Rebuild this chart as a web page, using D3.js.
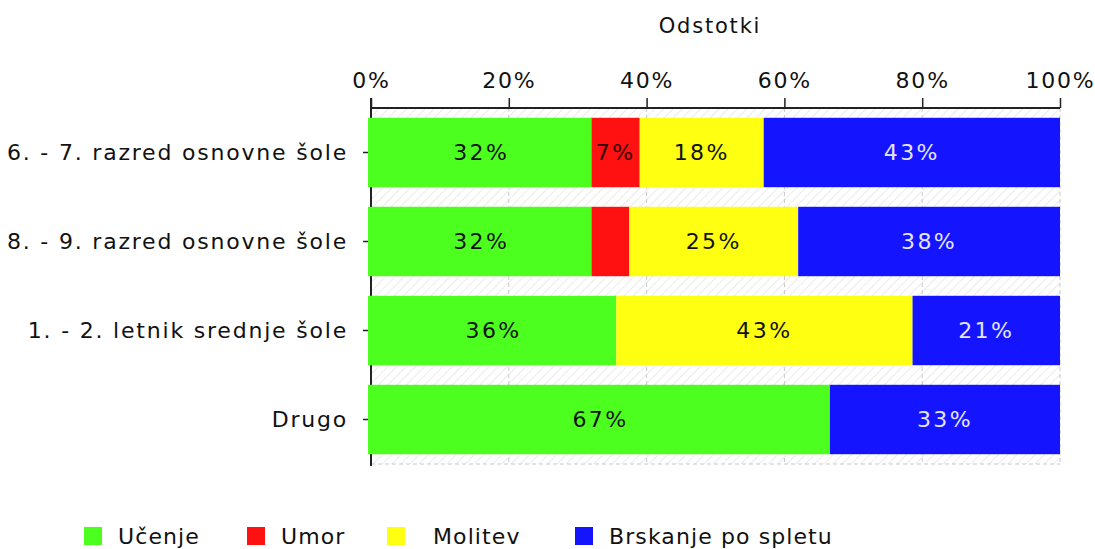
<!DOCTYPE html>
<html lang="sl">
<head>
<meta charset="utf-8">
<script src="https://cdnjs.cloudflare.com/ajax/libs/d3/7.8.5/d3.min.js"></script>
<style>
    body { margin: 0; background: #fff; }
    text { font-family: "DejaVu Sans", Verdana, sans-serif; }
</style>
</head>
<body>
<div id="chart"></div>
<script>
    // categories and series (percent of each row)
    var categories = ["6. - 7. razred osnovne šole", "8. - 9. razred osnovne šole", "1. - 2. letnik srednje šole", "Drugo"];
    var seriesNames = ["Učenje", "Umor", "Molitev", "Brskanje po spletu"];
    var ucenje = [32, 32, 35.6, 66.6];
    var umor = [7, 5.5, 0, 0];
    var molitev = [18, 24.5, 43.0, 0];
    var brskanje = [43, 38, 21.4, 33.4];
    var colors = ["#4dff1e", "#ff1111", "#ffff11", "#1414ff"];
    var ticks = [0, 20, 40, 60, 80, 100];

    var w = 1095, h = 549;
    var pLeft = 371, pRight = 1060, pTop = 108, pBottom = 464;
    var legendX = [84, 247, 387, 575];

    var svg = d3.select("#chart").append("svg")
        .attr("width", w)
        .attr("height", h);

    // hatch pattern for plot background
    var pat = svg.append("defs").append("pattern")
        .attr("id", "hatch")
        .attr("patternUnits", "userSpaceOnUse")
        .attr("width", 6.5).attr("height", 6.5)
        .attr("patternTransform", "rotate(45)");
    pat.append("line")
        .attr("x1", 0).attr("y1", 0).attr("x2", 0).attr("y2", 6.5)
        .attr("stroke", "#e6e6e6").attr("stroke-width", 1.6);

    var x = d3.scaleLinear().domain([0, 100]).range([pLeft, pRight]);
    var y = d3.scaleBand().domain(categories).range([pTop, pBottom])
        .paddingInner(0.22).paddingOuter(0.11);

    svg.append("rect")
        .attr("x", pLeft).attr("y", pTop)
        .attr("width", pRight - pLeft).attr("height", pBottom - pTop)
        .attr("fill", "url(#hatch)");

    // dashed grid
    svg.append("g").selectAll("line")
        .data(ticks.slice(1))
        .enter().append("line")
        .attr("x1", function(d) { return x(d); })
        .attr("x2", function(d) { return x(d); })
        .attr("y1", pTop).attr("y2", pBottom)
        .attr("stroke", "#c8c8c8").attr("stroke-dasharray", "4,3");
    svg.append("line")
        .attr("x1", pLeft).attr("x2", pRight)
        .attr("y1", pBottom).attr("y2", pBottom)
        .attr("stroke", "#c8c8c8").attr("stroke-dasharray", "4,3");

    // axes (drawn under the bars)
    var xAxis = svg.append("g")
        .attr("transform", "translate(0," + pTop + ")")
        .call(d3.axisTop(x).tickValues(ticks).tickSize(10).tickPadding(10)
            .tickFormat(function(d) { return d + "%"; }));
    var yAxis = svg.append("g")
        .attr("transform", "translate(" + pLeft + ",0)")
        .call(d3.axisLeft(y).tickSize(8).tickPadding(15));

    [xAxis, yAxis].forEach(function(a) {
        a.select(".domain").attr("stroke", "#222").attr("stroke-width", 2);
        a.selectAll(".tick line").attr("stroke", "#222").attr("stroke-width", 1.5);
        a.selectAll("text")
            .attr("font-family", "DejaVu Sans, Verdana, sans-serif")
            .attr("font-size", 22)
            .attr("letter-spacing", 1.8)
            .attr("fill", "#111");
    });
    yAxis.select(".domain").attr("d", "M0," + (pTop - 10) + "V" + (pBottom + 2));
    xAxis.select(".domain").attr("d", "M" + pLeft + ",0H" + pRight);

    // stacked bars
    var table = categories.map(function(c, i) {
        return { cat: c, "Učenje": ucenje[i], "Umor": umor[i], "Molitev": molitev[i], "Brskanje po spletu": brskanje[i] };
    });
    var stack = d3.stack().keys(seriesNames)(table);

    var layers = svg.append("g").selectAll("g")
        .data(stack)
        .enter().append("g")
        .attr("fill", function(d, i) { return colors[i]; });

    layers.selectAll("rect")
        .data(function(d) { return d.filter(function(v) { return v[1] - v[0] > 0; }); })
        .enter().append("rect")
        .attr("x", function(d) { return d[0] === 0 ? x(d[0]) - 3 : x(d[0]); })
        .attr("y", function(d) { return y(d.data.cat); })
        .attr("width", function(d) { return d[0] === 0 ? x(d[1]) - x(d[0]) + 3 : x(d[1]) - x(d[0]); })
        .attr("height", y.bandwidth());

    // value labels
    layers.each(function(layer, li) {
        d3.select(this).selectAll("text")
            .data(layer.filter(function(d) { return d[1] - d[0] > 0; }))
            .enter().append("text")
            .attr("x", function(d) { return (x(d[0]) + x(d[1])) / 2; })
            .attr("y", function(d) { return y(d.data.cat) + y.bandwidth() / 2; })
            .attr("dy", "0.36em")
            .attr("text-anchor", "middle")
            .attr("font-size", 22)
            .attr("letter-spacing", 2.4)
            .attr("fill", li === 3 ? "#e4e4ff" : (li === 1 ? "#300000" : "#111"))
            .text(function(d) { return Math.round(d[1] - d[0]) + "%"; })
            .each(function(d) {
                var tw = this.getComputedTextLength();
                if (tw + 2 > x(d[1]) - x(d[0])) d3.select(this).remove();
            });
    });

    // title
    svg.append("text")
        .attr("x", 710).attr("y", 33)
        .attr("text-anchor", "middle")
        .attr("font-size", 21)
        .attr("letter-spacing", 1.8)
        .attr("fill", "#111")
        .text("Odstotki");

    // legend
    var legend = svg.append("g").attr("transform", "translate(0,527)");
    seriesNames.forEach(function(name, i) {
        var item = legend.append("g").attr("transform", "translate(" + legendX[i] + ",0)");
        item.append("rect")
            .attr("width", 18).attr("height", 18)
            .attr("fill", colors[i]);
        item.append("text")
            .attr("x", name === "Molitev" ? 46 : 34).attr("y", 17)
            .attr("font-size", 22)
            .attr("letter-spacing", 1.1)
            .attr("fill", "#111")
            .text(name);
    });
</script>
</body>
</html>
